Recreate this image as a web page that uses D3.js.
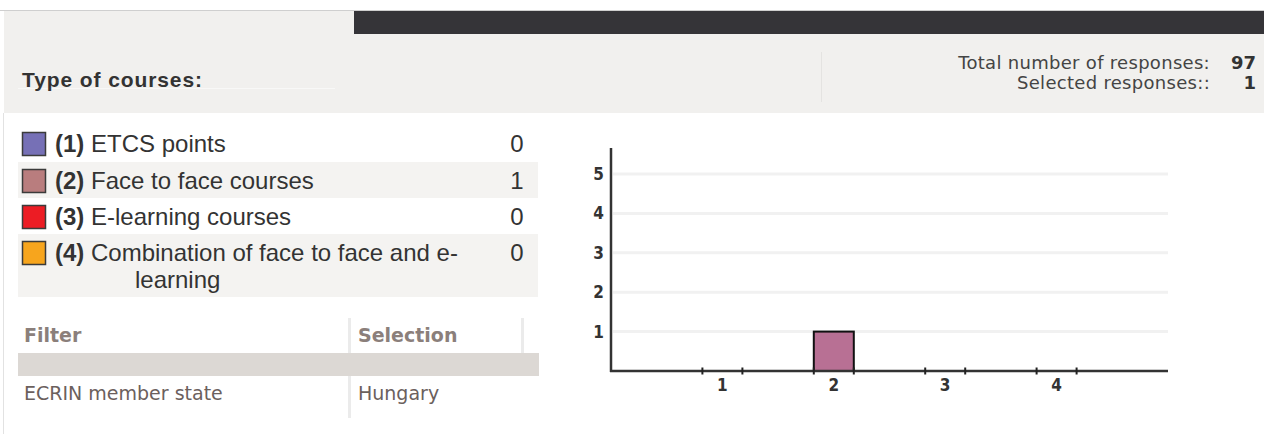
<!DOCTYPE html>
<html>
<head>
<meta charset="utf-8">
<script src="https://cdn.jsdelivr.net/npm/d3@7"></script>
<style>
  body { margin: 0; background: #fff; }
  svg { display: block; }
</style>
</head>
<body>
<div id="chart"></div>
<script>
(function() {
  // answer options and their counts
  var codes = [1, 2, 3, 4];
  var labels = ["ETCS points", "Face to face courses", "E-learning courses", "Combination of face to face and e-learning"];
  var counts = [0, 1, 0, 0];
  var swatchColors = ["#7670b6", "#b97d7e", "#ec1c24", "#f7a51d"];
  var yTicks = [1, 2, 3, 4, 5];

  var totalResponses = 97;
  var selectedResponses = 1;

  var filterHead = ["Filter", "Selection"];
  var filterRows = [["ECRIN member state", "Hungary"]];

  var width = 1264;
  var height = 434;

  var svg = d3.select("#chart")
    .append("svg")
    .attr("width", width)
    .attr("height", height);

  // header panel
  svg.append("line").attr("x1", 0).attr("x2", width).attr("y1", 10.5).attr("y2", 10.5)
    .attr("stroke", "#cfcfcf");
  svg.append("rect").attr("x", 4).attr("y", 11).attr("width", width - 4).attr("height", 102)
    .attr("fill", "#f1f0ee");
  svg.append("rect").attr("x", 354).attr("y", 11).attr("width", width - 354).attr("height", 23)
    .attr("fill", "#353438");
  svg.append("line").attr("x1", 18).attr("x2", 335).attr("y1", 88.5).attr("y2", 88.5)
    .attr("stroke", "#f8f8f7");
  svg.append("line").attr("x1", 821.5).attr("x2", 821.5).attr("y1", 52).attr("y2", 102)
    .attr("stroke", "#e4e3e1");

  svg.append("text")
    .attr("x", 22).attr("y", 87)
    .attr("font-family", "Liberation Sans, Arial, sans-serif")
    .attr("font-weight", "bold")
    .attr("font-size", "21px")
    .attr("letter-spacing", "0.9px")
    .attr("fill", "#333")
    .text("Type of courses:");

  var stats = [["Total number of responses:", totalResponses], ["Selected responses::", selectedResponses]];
  stats.forEach(function(s, i) {
    svg.append("text")
      .attr("x", 1210).attr("y", 69 + i * 20)
      .attr("text-anchor", "end")
      .attr("font-family", "DejaVu Sans, sans-serif")
      .attr("font-size", "18px")
      .attr("letter-spacing", "0.3px")
      .attr("fill", "#444")
      .text(s[0]);
    svg.append("text")
      .attr("x", 1256).attr("y", 69 + i * 20)
      .attr("text-anchor", "end")
      .attr("font-family", "DejaVu Sans, sans-serif")
      .attr("font-weight", "bold")
      .attr("font-size", "18px")
      .attr("fill", "#333")
      .text(s[1]);
  });

  // left border of content area
  svg.append("line").attr("x1", 3.5).attr("x2", 3.5).attr("y1", 113).attr("y2", height)
    .attr("stroke", "#e2e2e2");

  // legend table
  var rowTops = [125, 162, 198, 234];
  var rowHeights = [37, 36, 36, 63];
  var legend = svg.append("g")
    .attr("font-family", "Liberation Sans, Arial, sans-serif")
    .attr("font-size", "24px")
    .attr("fill", "#333");
  codes.forEach(function(c, i) {
    var top = rowTops[i];
    legend.append("rect")
      .attr("x", 18).attr("y", top).attr("width", 520).attr("height", rowHeights[i])
      .attr("fill", i % 2 ? "#f4f3f1" : "#fff");
    legend.append("rect")
      .attr("x", 22.5).attr("y", top + 7.5).attr("width", 23).attr("height", 23)
      .attr("fill", swatchColors[i])
      .attr("stroke", "#3b3b3b")
      .attr("stroke-width", 1.5);
    var t = legend.append("text")
      .attr("x", 55).attr("y", top + 27);
    t.append("tspan").attr("font-weight", "bold").text("(" + c + ")");
    var words = labels[i];
    if (words.length > 35) {
      t.append("tspan").text(" Combination of face to face and e-");
      legend.append("text")
        .attr("x", 135).attr("y", top + 54)
        .text("learning");
    } else {
      t.append("tspan").text(" " + words);
    }
    legend.append("text")
      .attr("x", 517).attr("y", top + 27)
      .attr("text-anchor", "middle")
      .text(counts[i]);
  });

  // filter table
  var ft = svg.append("g").attr("font-family", "DejaVu Sans, sans-serif").attr("font-size", "19px");
  ft.append("rect").attr("x", 348).attr("y", 318).attr("width", 3).attr("height", 100).attr("fill", "#ebebeb");
  ft.append("rect").attr("x", 521).attr("y", 318).attr("width", 3).attr("height", 35).attr("fill", "#ebebeb");
  ft.append("rect").attr("x", 18).attr("y", 353).attr("width", 521).attr("height", 23).attr("fill", "#dcd8d4");
  var colX = [24, 358];
  filterHead.forEach(function(h, i) {
    ft.append("text").attr("x", colX[i]).attr("y", 342)
      .attr("font-weight", "bold").attr("fill", "#8b7f7b").text(h);
  });
  filterRows.forEach(function(r, j) {
    r.forEach(function(v, i) {
      ft.append("text").attr("x", colX[i]).attr("y", 400 + j * 25)
        .attr("fill", "#6b605d").text(v);
    });
  });

  // bar chart
  var x = d3.scaleLinear().domain([0, codes.length + 1]).range([611, 1168]);
  var y = d3.scaleLinear().domain([0, 5]).range([371, 174]);
  var chart = svg.append("g");

  chart.selectAll(".grid")
    .data(yTicks)
    .enter()
    .append("line")
    .attr("x1", 613).attr("x2", 1168)
    .attr("y1", function(d) { return y(d); })
    .attr("y2", function(d) { return y(d); })
    .attr("stroke", "#f1f1f1")
    .attr("stroke-width", 3);

  chart.selectAll(".bar")
    .data(codes)
    .enter()
    .append("rect")
    .attr("x", function(d) { return x(d) - 20; })
    .attr("y", function(d, i) { return y(counts[i]); })
    .attr("width", 40)
    .attr("height", function(d, i) { return y(0) - y(counts[i]); })
    .attr("fill", "#b87094")
    .attr("stroke", "#111")
    .attr("stroke-width", 2)
    .style("display", function(d, i) { return counts[i] > 0 ? null : "none"; });

  // axes
  chart.append("line").attr("x1", 611).attr("x2", 611).attr("y1", 148).attr("y2", 372)
    .attr("stroke", "#333").attr("stroke-width", 2.5);
  chart.append("line").attr("x1", 610).attr("x2", 1168).attr("y1", y(0)).attr("y2", y(0))
    .attr("stroke", "#333").attr("stroke-width", 2.5);

  codes.forEach(function(c) {
    [-20, 20].forEach(function(o) {
      chart.append("line")
        .attr("x1", x(c) + o).attr("x2", x(c) + o)
        .attr("y1", y(0) - 3.5).attr("y2", y(0) + 3.5)
        .attr("stroke", "#222").attr("stroke-width", 2);
    });
  });

  var tickFont = "DejaVu Sans Condensed, DejaVu Sans, sans-serif";
  chart.selectAll(".xl")
    .data(codes)
    .enter()
    .append("text")
    .attr("x", function(d) { return x(d); })
    .attr("y", 391)
    .attr("text-anchor", "middle")
    .attr("font-family", tickFont)
    .attr("font-weight", "bold")
    .attr("font-size", "17px")
    .attr("fill", "#333")
    .text(function(d) { return d; });

  chart.selectAll(".yl")
    .data(yTicks)
    .enter()
    .append("text")
    .attr("x", 604)
    .attr("y", function(d) { return y(d) + 6; })
    .attr("text-anchor", "end")
    .attr("font-family", tickFont)
    .attr("font-weight", "bold")
    .attr("font-size", "17px")
    .attr("fill", "#333")
    .text(function(d) { return d; });
})();
</script>
</body>
</html>
